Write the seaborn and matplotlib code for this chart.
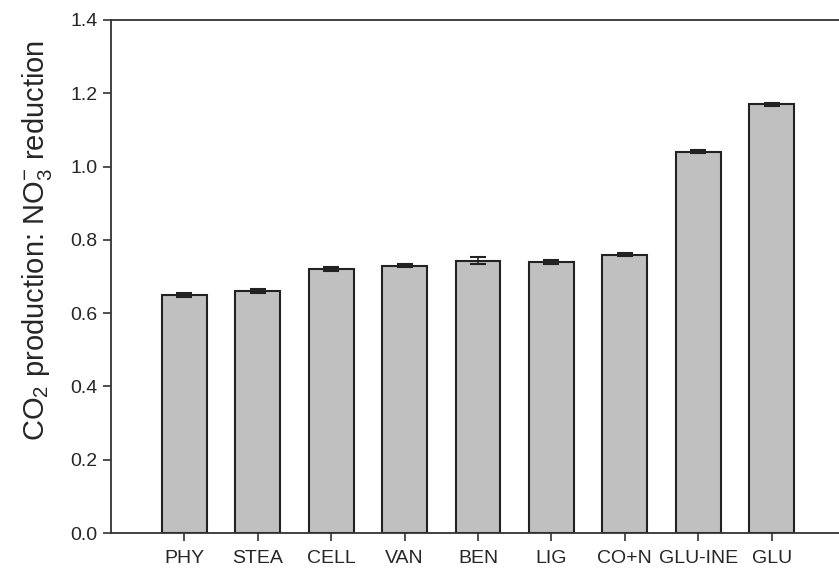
import matplotlib
matplotlib.use("Agg")
import matplotlib.pyplot as plt
import seaborn as sns
import pandas as pd
import numpy as np

categories = ["PHY", "STEA", "CELL", "VAN", "BEN", "LIG", "CO+N", "GLU-INE", "GLU"]
values = [0.650, 0.660, 0.720, 0.730, 0.743, 0.740, 0.760, 1.040, 1.170]
errors = [0.005, 0.005, 0.005, 0.005, 0.010, 0.005, 0.005, 0.004, 0.004]
yticks = [0.0, 0.2, 0.4, 0.6, 0.8, 1.0, 1.2, 1.4]

sns.set_style("ticks")
plt.rcParams['font.family'] = ['Liberation Sans', 'DejaVu Sans']
plt.rcParams['mathtext.fontset'] = 'custom'
plt.rcParams['mathtext.rm'] = 'Liberation Sans'
plt.rcParams['mathtext.it'] = 'Liberation Sans:italic'

df = pd.DataFrame({"cat": categories, "val": values, "err": errors})

fig = plt.figure(figsize=(8.39, 5.77), dpi=100)
W, H = 839, 577
left, right, top, bottom = 111, 845, 20, 533
ax = fig.add_axes([left / W, 1 - bottom / H, (right - left) / W, (bottom - top) / H])

sns.barplot(data=df, x="cat", y="val", color="#c0c0c0", edgecolor="#222222",
            linewidth=1.5, width=0.61, errorbar=None, saturation=1, ax=ax)
ax.errorbar(np.arange(len(categories)), df["val"], yerr=df["err"], fmt="none",
            ecolor="#222222", elinewidth=1.2, capsize=5.5, capthick=1.5, zorder=5)

ax.set_xlim(-1, 9)
ax.set_ylim(0, 1.4)
ax.set_yticks(yticks)
ax.set_yticklabels([f"{t:.1f}" for t in yticks])
ax.set_xlabel("")
ax.set_ylabel(r"CO$_2$ production: NO$_3^{-}$ reduction", fontsize=21)
ax.yaxis.set_label_coords(-0.078, 0.571)
ax.tick_params(axis="both", labelsize=14, length=6, width=1.2, color="#333333",
               direction="out")
ax.tick_params(axis="x", pad=6)
for s in ["left", "bottom", "top"]:
    ax.spines[s].set_visible(True)
    ax.spines[s].set_linewidth(1.3)
    ax.spines[s].set_color("#333333")
ax.spines["right"].set_visible(False)

fig.savefig("out.png", dpi=100)
